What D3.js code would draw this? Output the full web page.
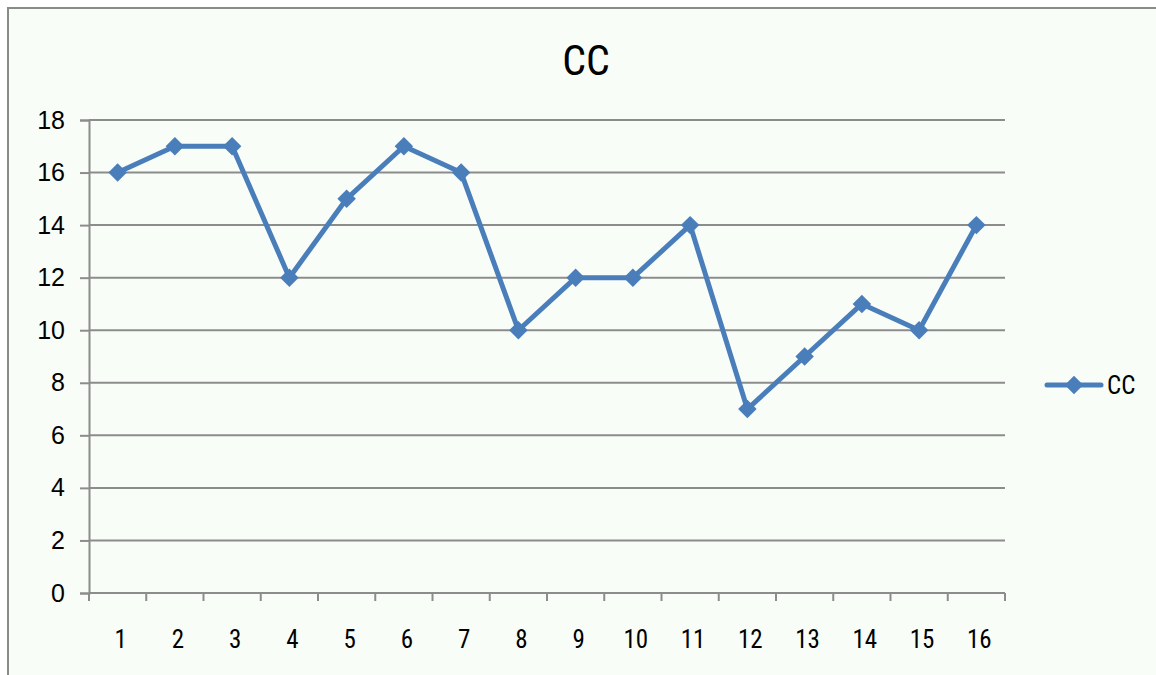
<!DOCTYPE html>
<html>
<head>
<meta charset="utf-8">
<script src="https://cdn.jsdelivr.net/npm/d3@7"></script>
<style>
  html, body { margin: 0; padding: 0; background: #ffffff; }
  svg { display: block; }
  text { font-family: "Liberation Sans Narrow", "Arial Narrow", "Roboto Condensed", "Liberation Sans", sans-serif; fill: #000; }
</style>
</head>
<body>
<svg id="chart" width="1156" height="675"></svg>
<script>
// Series data
const categories = ["1","2","3","4","5","6","7","8","9","10","11","12","13","14","15","16"];
const values = [16, 17, 17, 12, 15, 17, 16, 10, 12, 12, 14, 7, 9, 11, 10, 14];
const yTicks = [0, 2, 4, 6, 8, 10, 12, 14, 16, 18];
const seriesName = "CC";
const chartTitle = "CC";

const W = 1156, H = 675;
const svg = d3.select("#chart");
const lineColor = "#4A7EBB";
const gridColor = "#8c8c8c";
const fontStack = "'Liberation Sans Narrow', 'Arial Narrow', sans-serif";

// Chart area background and frame
svg.append("rect")
  .attr("x", 8).attr("y", 8)
  .attr("width", W + 10).attr("height", H + 10)
  .attr("fill", "#f8fdf8")
  .attr("stroke", "#8a8a8a").attr("stroke-width", 2);

const plot = { left: 89, right: 1005, top: 120, bottom: 593 };

const x = d3.scaleBand().domain(categories).range([plot.left, plot.right]);
const y = d3.scaleLinear().domain([0, 18]).range([plot.bottom, plot.top]);

// Horizontal gridlines
svg.append("g")
  .selectAll("line")
  .data(yTicks.filter(d => d > 0))
  .join("line")
  .attr("x1", plot.left).attr("x2", plot.right)
  .attr("y1", d => y(d)).attr("y2", d => y(d))
  .attr("stroke", gridColor).attr("stroke-width", 2);

// Y axis
const yAxis = svg.append("g")
  .attr("transform", `translate(${plot.left},0)`)
  .call(d3.axisLeft(y).tickValues(yTicks).tickSize(9).tickPadding(15));
yAxis.attr("font-family", null).attr("font-size", null);
yAxis.select(".domain").attr("stroke", gridColor).attr("stroke-width", 2);
yAxis.selectAll(".tick line").attr("stroke", gridColor).attr("stroke-width", 2);
yAxis.selectAll(".tick text")
  .style("font-size", "25px")
  .style("font-family", fontStack)
  .attr("fill", "#000");

// X axis with ticks at category boundaries
const xAxisG = svg.append("g").attr("transform", `translate(0,${plot.bottom})`);
xAxisG.append("line")
  .attr("x1", plot.left).attr("x2", plot.right)
  .attr("y1", 0).attr("y2", 0)
  .attr("stroke", gridColor).attr("stroke-width", 2);
const boundaries = categories.map(c => x(c)).concat([x(categories[categories.length - 1]) + x.bandwidth()]);
xAxisG.selectAll("line.tk")
  .data(boundaries)
  .join("line")
  .attr("class", "tk")
  .attr("x1", d => d).attr("x2", d => d)
  .attr("y1", 0).attr("y2", 8)
  .attr("stroke", gridColor).attr("stroke-width", 2);
xAxisG.selectAll("text")
  .data(categories)
  .join("text")
  .attr("x", d => x(d) + x.bandwidth() / 2 + 3)
  .attr("y", 55)
  .attr("text-anchor", "middle")
  .style("font-size", "25px")
  .text(d => d);

// Line series
const cx = d => x(d) + x.bandwidth() / 2;
const line = d3.line()
  .x((d, i) => cx(categories[i]))
  .y(d => y(d));
svg.append("path")
  .datum(values)
  .attr("d", line)
  .attr("fill", "none")
  .attr("stroke", lineColor)
  .attr("stroke-width", 5)
  .attr("stroke-linejoin", "round")
  .attr("stroke-linecap", "round");

// Diamond markers
const diamond = d3.symbol().type(d3.symbolSquare).size(170);
svg.append("g")
  .selectAll("path")
  .data(values)
  .join("path")
  .attr("d", diamond)
  .attr("transform", (d, i) => `translate(${cx(categories[i])},${y(d)}) rotate(45)`)
  .attr("fill", lineColor);

// Title
svg.append("text")
  .attr("x", 586).attr("y", 75)
  .attr("text-anchor", "middle")
  .style("font-size", "42px")
  .text(chartTitle);

// Legend
const lg = svg.append("g").attr("transform", "translate(1047,385)");
lg.append("line")
  .attr("x1", 0).attr("x2", 54)
  .attr("y1", 0).attr("y2", 0)
  .attr("stroke", lineColor).attr("stroke-width", 5)
  .attr("stroke-linecap", "round");
lg.append("path")
  .attr("d", diamond)
  .attr("transform", "translate(27,0) rotate(45)")
  .attr("fill", lineColor);
lg.append("text")
  .attr("x", 60).attr("y", 9)
  .style("font-size", "25px")
  .text(seriesName);
</script>
</body>
</html>
